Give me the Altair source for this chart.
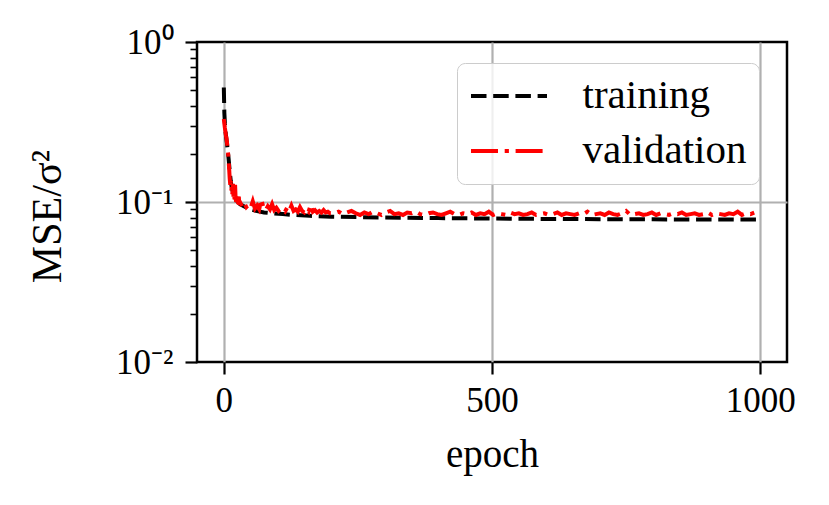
import altair as alt
import pandas as pd

# ---- data ----
train_epochs = [0, 1, 2, 3, 4, 5, 6, 7, 8, 9, 10, 11, 12, 13, 14, 15, 17, 20, 25, 30, 40, 50, 60, 75, 90,
                110, 130, 160, 200, 250, 300, 400, 500, 600, 700, 800, 900, 1000]
train_mse = [0.52, 0.36, 0.31, 0.28, 0.26, 0.245, 0.23, 0.215, 0.2, 0.185, 0.17, 0.155, 0.145, 0.135, 0.128,
             0.122, 0.115, 0.108, 0.101, 0.097, 0.093, 0.090, 0.088, 0.086, 0.085, 0.084, 0.083, 0.082,
             0.081, 0.0805, 0.080, 0.0793, 0.0788, 0.0784, 0.0781, 0.0779, 0.0777, 0.0776]

val_epochs = list(range(0, 31)) + list(range(34, 199, 4)) + list(range(206, 999, 8))
val_mse = [
    0.33, 0.31, 0.29, 0.275, 0.26, 0.25, 0.235, 0.22, 0.2, 0.18, 0.16, 0.14, 0.128, 0.135, 0.118, 0.125,
    0.112, 0.13, 0.108, 0.115, 0.104, 0.128, 0.105, 0.1, 0.112, 0.098, 0.103, 0.097, 0.108, 0.096, 0.1,
    # 34 .. 198 step 4
    0.094, 0.099, 0.093, 0.096, 0.092, 0.101, 0.091, 0.095, 0.09, 0.104, 0.092, 0.089, 0.094, 0.09,
    0.097, 0.089, 0.092, 0.088, 0.091, 0.089, 0.087, 0.092, 0.088, 0.095, 0.088, 0.09, 0.087, 0.093,
    0.088, 0.086, 0.09, 0.087, 0.096, 0.087, 0.089, 0.086, 0.088, 0.086, 0.089, 0.086, 0.087, 0.085,
    # 206 .. 998 step 8
    0.085, 0.087, 0.084, 0.086, 0.088, 0.085, 0.083, 0.086, 0.084, 0.087, 0.085, 0.083, 0.086, 0.088,
    0.084, 0.085, 0.083, 0.086, 0.085, 0.087, 0.084, 0.083, 0.085, 0.086, 0.084, 0.083, 0.085, 0.087,
    0.084, 0.083, 0.085, 0.084, 0.086, 0.083, 0.085, 0.084, 0.087, 0.083, 0.085, 0.084, 0.083, 0.086,
    0.084, 0.085, 0.083, 0.084, 0.086, 0.083, 0.084, 0.085, 0.083, 0.084, 0.086, 0.083, 0.085, 0.084,
    0.083, 0.085, 0.084, 0.087, 0.083, 0.084, 0.085, 0.083, 0.086, 0.084, 0.083, 0.085, 0.088, 0.083,
    0.084, 0.085, 0.083, 0.084, 0.086, 0.083, 0.085, 0.084, 0.083, 0.085, 0.084, 0.086, 0.083, 0.084,
    0.085, 0.083, 0.084, 0.086, 0.083, 0.085, 0.084, 0.083, 0.085, 0.084, 0.087, 0.083, 0.085, 0.084,
    0.086, 0.087,
]

series_names = ["training", "validation"]
series_colors = ["black", "red"]
series_dashes = [[15.5, 6.7], [27, 6.7, 4.2, 6.7]]

x_ticks = [0, 500, 1000]
y_ticks = [0.01, 0.02, 0.03, 0.04, 0.05, 0.06, 0.07, 0.08, 0.09,
           0.1, 0.2, 0.3, 0.4, 0.5, 0.6, 0.7, 0.8, 0.9, 1.0]

rows = [{"series": "training", "epoch": e, "mse": v} for e, v in zip(train_epochs, train_mse)]
rows += [{"series": "validation", "epoch": e, "mse": v} for e, v in zip(val_epochs, val_mse)]
df = pd.DataFrame(rows)

FONT = "Liberation Serif"
LOGV = "(log(datum.value)/LN10)"
MAJOR = f"abs({LOGV} - round({LOGV})) < 1e-6"
INNER_MAJOR = f"abs({LOGV} + 1) < 1e-6"
label_expr = (f"{MAJOR} ? (round({LOGV}) == 0 ? '10⁰' : "
              f"round({LOGV}) == -1 ? '10⁻¹' : '10⁻²') : ''")


def make_legend():
    return alt.Legend(title=None, orient="none", legendX=260, legendY=21,
                      symbolType="M-4,0H4", symbolSize=361, symbolStrokeWidth=4,
                      symbolOffset=19, labelFont=FONT, labelFontSize=41, labelColor="black",
                      labelOffset=53, labelLimit=400, rowPadding=13, padding=12.5,
                      strokeColor="#cccccc", fillColor="rgba(255,255,255,0.8)",
                      cornerRadius=8)


chart = alt.Chart(df).mark_line(strokeWidth=4, clip=True).encode(
    x=alt.X("epoch:Q",
            scale=alt.Scale(domain=[-50, 1050], nice=False, zero=False),
            axis=alt.Axis(title="epoch", values=x_ticks, format="d", grid=True,
                          gridColor="#b0b0b0", gridWidth=2.2,
                          tickSize=12, tickWidth=2.2, tickColor="black",
                          labelFont=FONT, labelFontSize=35, labelColor="black",
                          labelPadding=9, titleFont=FONT, titleFontSize=39,
                          titleFontWeight="normal", titleColor="black", titlePadding=17,
                          domain=False)),
    y=alt.Y("mse:Q",
            scale=alt.Scale(type="log", domain=[0.01, 1], nice=False),
            axis=alt.Axis(title="MSE/σ²", values=y_ticks, labelExpr=label_expr,
                          labelOverlap=False, grid=True, gridColor="#b0b0b0", gridWidth=2.2,
                          gridOpacity={"condition": {"test": INNER_MAJOR, "value": 1}, "value": 0},
                          tickSize={"condition": {"test": MAJOR, "value": 12}, "value": 7},
                          tickWidth={"condition": {"test": MAJOR, "value": 2.2}, "value": 1.6},
                          tickColor="black",
                          labelFont=FONT, labelFontSize=35, labelColor="black", labelPadding=12,
                          titleFont=FONT, titleFontSize=42, titleFontWeight="normal",
                          titleColor="black", titlePadding=46, titleY=174, domain=False)),
    color=alt.Color("series:N",
                    scale=alt.Scale(domain=series_names, range=series_colors),
                    legend=make_legend()),
    strokeDash=alt.StrokeDash("series:N",
                              scale=alt.Scale(domain=series_names, range=series_dashes),
                              legend=make_legend()),
).properties(
    width=590, height=320,
    padding={"left": 18, "top": 17, "right": 5, "bottom": 5},
    background="white",
).configure_view(
    stroke="black", strokeWidth=2.5, fill="white"
)

chart.save("out.html", embed_options={"renderer": "svg", "actions": False})
